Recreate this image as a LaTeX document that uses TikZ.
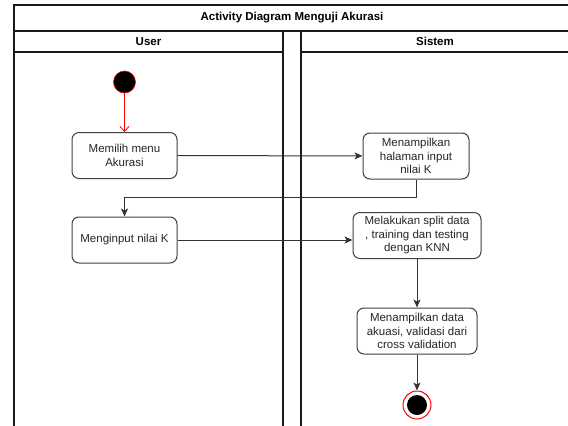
\documentclass[tikz,border=0pt]{standalone}
\usepackage{fontspec}
\setmainfont{Liberation Sans}
\usetikzlibrary{arrows.meta}
\begin{document}
\begin{tikzpicture}[x=1pt, y=-1pt,
		lane/.style={line width=1.2pt, draw=black!90},
		act/.style={draw=black!75, line width=1pt, rounded corners=7pt, align=center, fill=white,
			minimum height=46pt, inner sep=2pt, text=black!85, font=\fontsize{11.5}{13.5}\selectfont},
		flow/.style={draw=black!80, line width=1pt, -{Stealth[length=8pt,width=7pt,inset=2pt]}},
		initflow/.style={draw=red, line width=0.8pt, -{Straight Barb[length=5pt,width=9pt]}},
		head/.style={font=\bfseries\fontsize{11.5}{13.5}\selectfont}]
	\useasboundingbox (0,0) rectangle (568,426);
	
	%swimlane frame
	\draw[lane] (568,5) -- (14,5) -- (14,426);
	\draw[lane] (14,31) -- (568,31);
	\draw[lane] (14,52) -- (283,52);
	\draw[lane] (301,52) -- (568,52);
	\foreach \x in {283, 301}{
		\draw[lane] (\x,31) -- (\x,426);
	}
	\node[head] (title) at (292,18){Activity Diagram Menguji Akurasi};
	\node[head] (user) at (148.5,41.5){User};
	\node[head] (sistem) at (435,41.5){Sistem};
	
	%activities
	\node (start) at (124.5,82) [circle, fill=black, draw=red, line width=0.6pt, minimum size=22pt, inner sep=0pt]{};
	\node (memilih) at (124.5,155.5) [act, minimum width=105pt]{Memilih menu\\Akurasi};
	\node (tampilhal) at (416,156) [act, minimum width=106pt]{Menampilkan\\halaman input\\nilai K};
	\node (input) at (124.5,240) [act, minimum width=105pt]{Menginput nilai K};
	\node (proses) at (417,235.5) [act, minimum width=128pt]{Melakukan split data\\, training dan testing\\dengan KNN};
	\node (tampildata) at (417,331) [act, minimum width=120pt]{Menampilkan data\\akuasi, validasi dari\\cross validation};
	\node (finish) at (417,405) [circle, draw=red, fill=white, line width=1pt, minimum size=28pt, inner sep=0pt]{};
	\node (finishdot) at (finish) [circle, fill=black, minimum size=20pt, inner sep=0pt]{};
	
	%flows
	\draw[initflow] (start) -- (memilih);
	\draw[flow] (memilih) -- (tampilhal);
	\draw[flow] (tampilhal.south) -- ++(0,18) -| (input.north);
	\draw[flow] (input.east) -- (input.east -| proses.west);
	\draw[flow] (proses) -- (tampildata);
	\draw[flow] (tampildata) -- (finish);
\end{tikzpicture}
\end{document}
